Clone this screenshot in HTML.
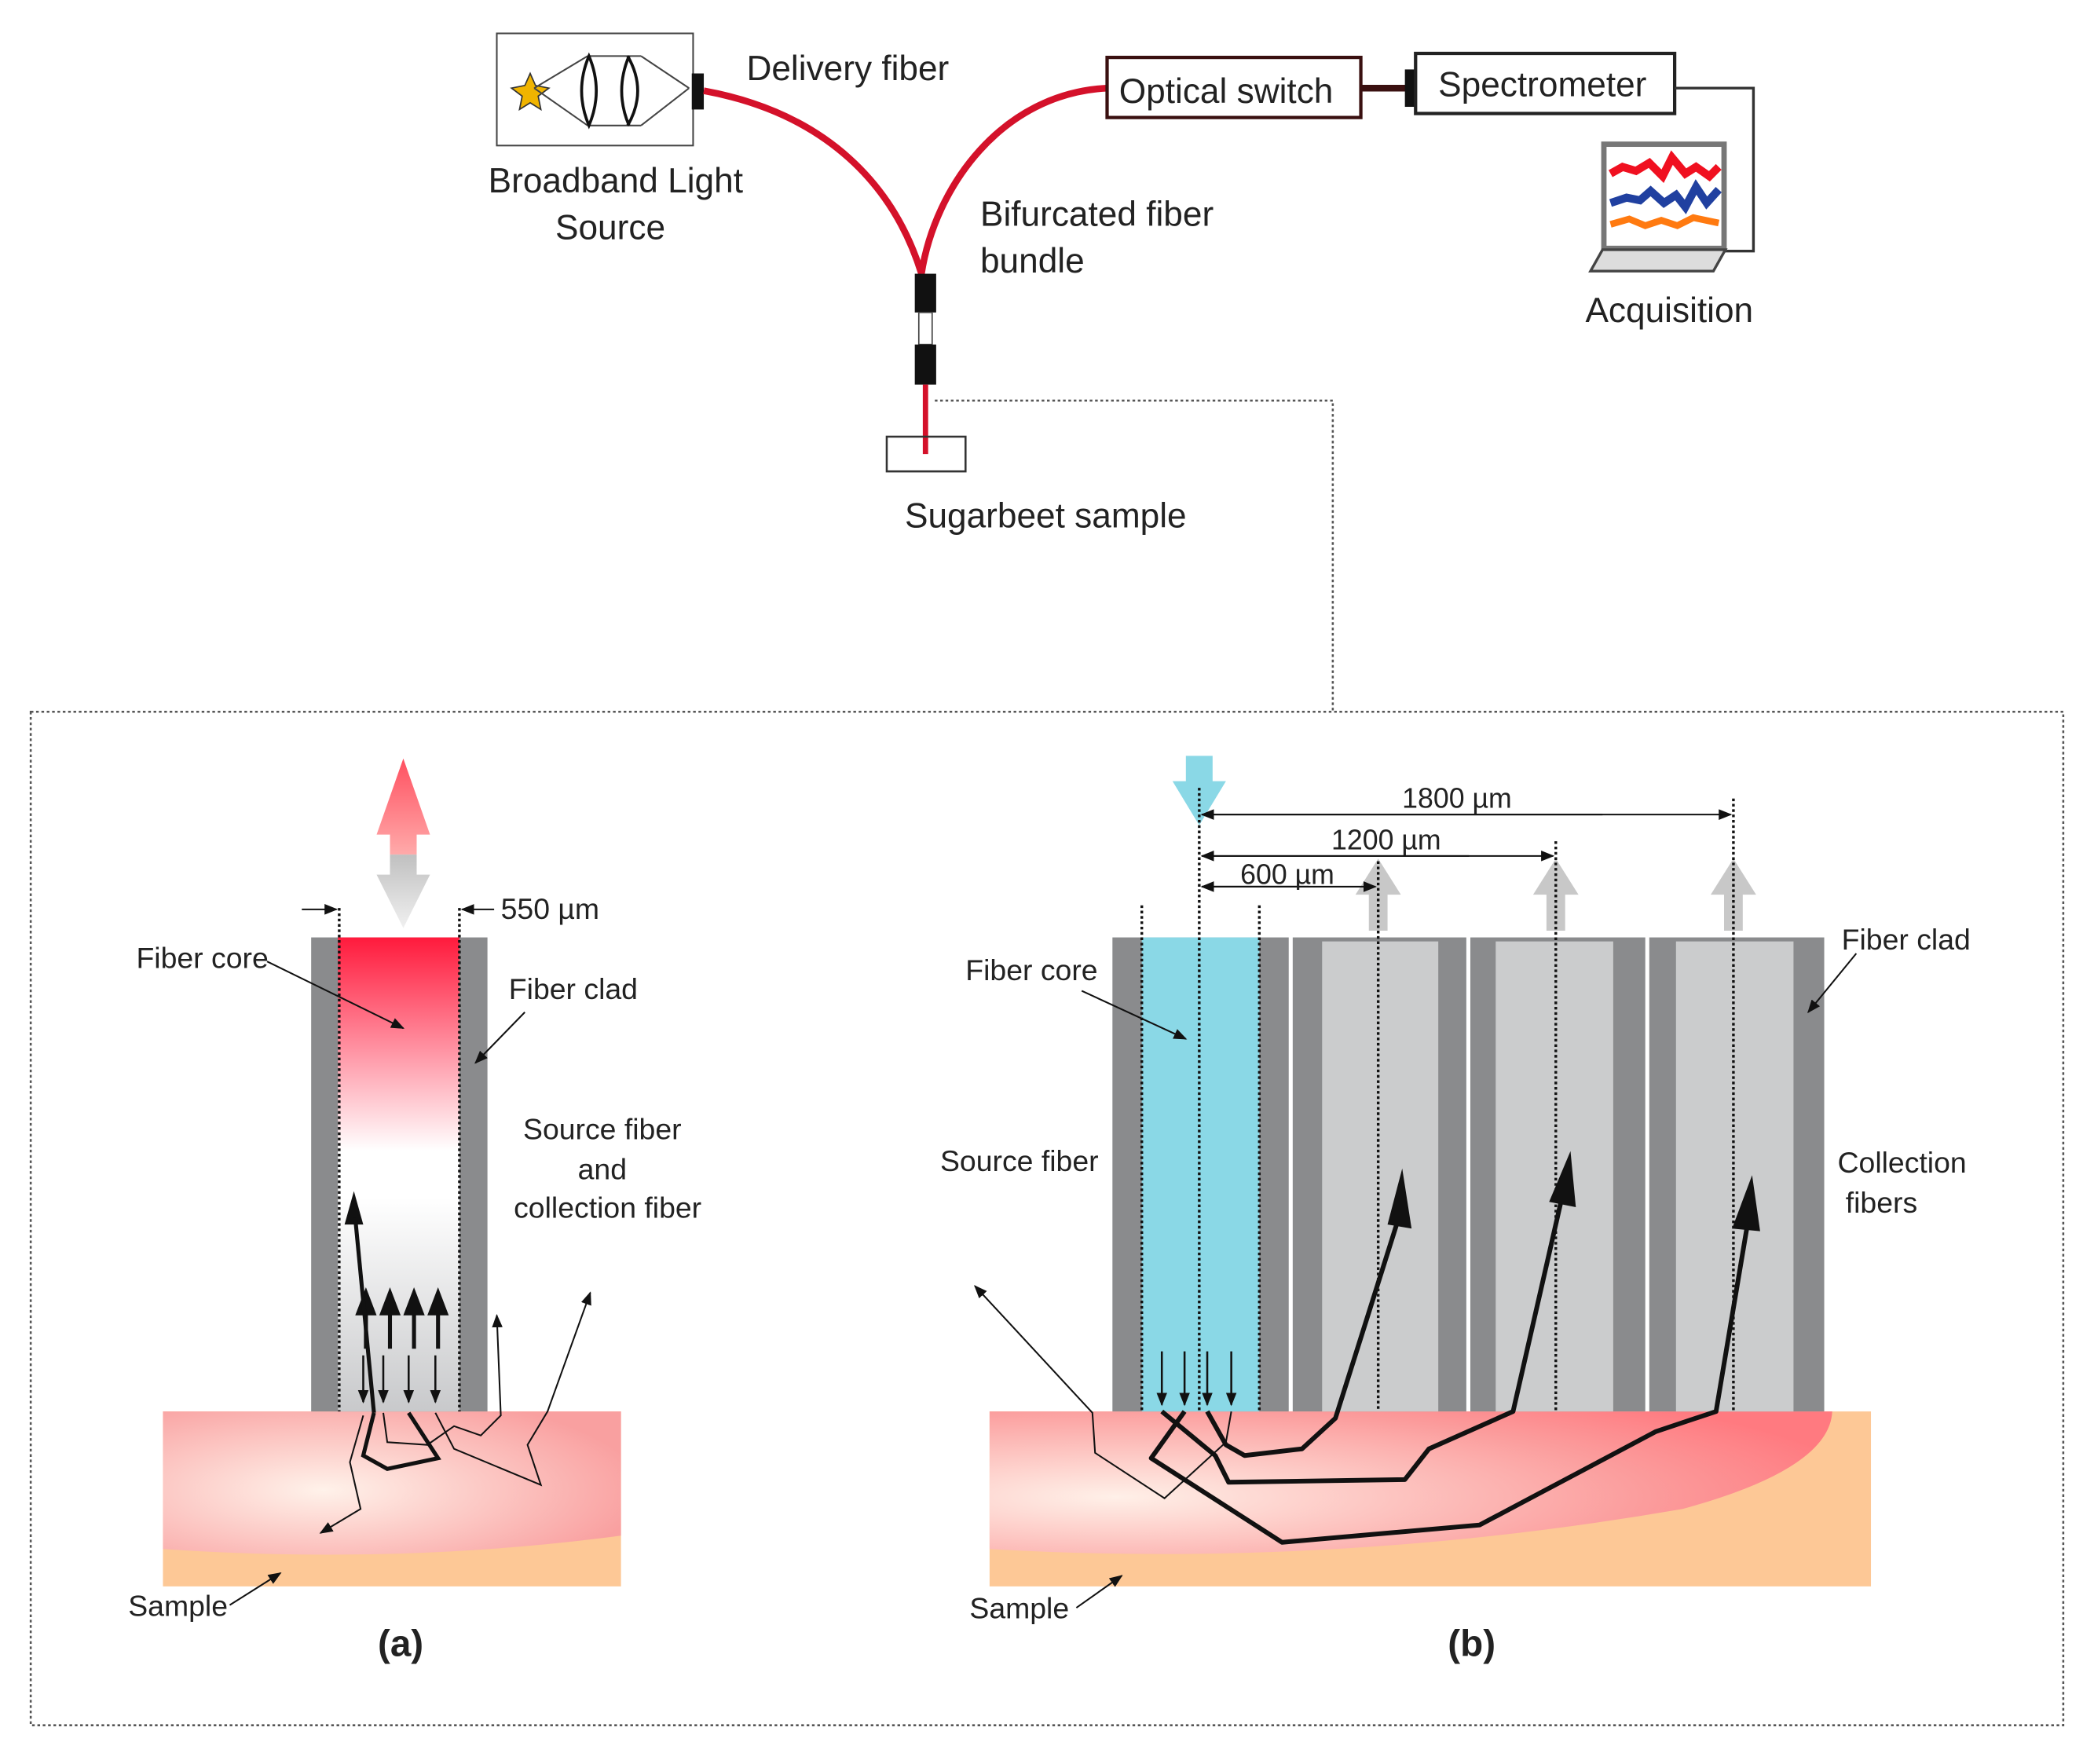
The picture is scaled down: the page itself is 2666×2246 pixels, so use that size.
<!DOCTYPE html>
<html><head><meta charset="utf-8"><style>
html,body{margin:0;padding:0;background:#fff}
svg{display:block}
text{font-family:"Liberation Sans",sans-serif;fill:#222}
</style></head><body>
<svg width="2666" height="2246" viewBox="0 0 1568 1321" xmlns="http://www.w3.org/2000/svg">
<defs>
<marker id="ah" markerWidth="10" markerHeight="8" refX="9" refY="4" orient="auto" markerUnits="userSpaceOnUse"><path d="M0,0 L10,4 L0,8 z" fill="#111"/></marker>
<marker id="ahb" markerWidth="18" markerHeight="16" refX="16" refY="8" orient="auto" markerUnits="userSpaceOnUse"><path d="M0,0 L18,8 L0,16 z" fill="#111"/></marker>
<linearGradient id="coreA" x1="0" y1="0" x2="0" y2="1">
<stop offset="0" stop-color="#ff1a3c"/><stop offset="0.45" stop-color="#fff"/><stop offset="0.55" stop-color="#fff"/><stop offset="1" stop-color="#c8c9cb"/></linearGradient>
<radialGradient id="sampA" cx="0.35" cy="0.55" r="0.7"><stop offset="0" stop-color="#fff2ea"/><stop offset="1" stop-color="#f9a0a0"/></radialGradient>
<radialGradient id="sampB" cx="0.15" cy="0.6" r="0.9"><stop offset="0" stop-color="#fff0e8"/><stop offset="0.7" stop-color="#fb9c9c"/><stop offset="1" stop-color="#ff7a80"/></radialGradient>
<linearGradient id="upR" x1="0" y1="0" x2="0" y2="1"><stop offset="0" stop-color="#ff5060"/><stop offset="1" stop-color="#ffaaaa"/></linearGradient>
<linearGradient id="dnG" x1="0" y1="0" x2="0" y2="1"><stop offset="0" stop-color="#c0c0c0"/><stop offset="1" stop-color="#f0f0f0"/></linearGradient>
</defs>

<!-- TOP SETUP -->
<rect x="372" y="25" width="147" height="84" fill="#fff" stroke="#444" stroke-width="1.2"/>
<polygon points="397,55 401,64 411,66 403,72 405,82 397,77 389,82 391,72 383,66 393,64" fill="#f0b400" stroke="#333" stroke-width="1"/>
<path d="M400,66 L440,42 M400,66 L440,94 M440,42 L480,42 M440,94 L480,94 M480,42 L516,66 M480,94 L516,66" stroke="#444" stroke-width="1.2" fill="none"/>
<path d="M441,42 Q452,68 441,94 Q430,68 441,42 Z" fill="#fff" stroke="#111" stroke-width="2.2"/>
<path d="M471,42 Q460,68 471,94 M470,42 Q485,68 470,94" fill="none" stroke="#111" stroke-width="2.2"/>
<rect x="518" y="55" width="9" height="27" fill="#111"/>
<path d="M527,68 C620,85 670,140 690,205" stroke="#d4112a" stroke-width="5" fill="none"/>
<path d="M690,205 C700,140 750,70 829,66" stroke="#d4112a" stroke-width="5" fill="none"/>
<rect x="685" y="205" width="16" height="29" fill="#111"/>
<rect x="688" y="234" width="10" height="24" fill="#fff" stroke="#444"/>
<rect x="685" y="258" width="16" height="30" fill="#111"/>
<line x1="693" y1="288" x2="693" y2="340" stroke="#d4112a" stroke-width="4"/>
<rect x="664" y="327" width="59" height="26" fill="none" stroke="#333" stroke-width="1.5"/>
<rect x="829" y="43" width="190" height="45" fill="#fff" stroke="#3a1010" stroke-width="2.5"/>
<line x1="1019" y1="66" x2="1058" y2="66" stroke="#3a1010" stroke-width="5"/>
<rect x="1052" y="52" width="8" height="28" fill="#111"/>
<rect x="1060" y="40" width="194" height="45" fill="#fff" stroke="#222" stroke-width="2.5"/>
<path d="M1254,66 L1313,66 L1313,188 L1288,188" stroke="#333" stroke-width="2" fill="none"/>
<rect x="1201" y="108" width="90" height="78" fill="#fff" stroke="#777" stroke-width="4"/>
<path d="M1206,130 L1215,125 L1225,128 L1235,122 L1245,132 L1252,118 L1262,130 L1270,125 L1280,132 L1287,125" stroke="#f01020" stroke-width="6" fill="none"/>
<path d="M1206,152 L1218,148 L1228,150 L1236,143 L1246,152 L1255,146 L1262,155 L1270,140 L1278,152 L1287,142" stroke="#2040a0" stroke-width="6" fill="none"/>
<path d="M1206,168 L1220,164 L1232,169 L1244,165 L1256,169 L1268,163 L1287,167" stroke="#ff7a10" stroke-width="5" fill="none"/>
<polygon points="1200,187 1292,187 1283,203 1191,203" fill="#ddd" stroke="#444" stroke-width="2"/>
<text x="559" y="60" font-size="26">Delivery fiber</text>
<text x="461" y="144" font-size="26" text-anchor="middle">Broadband Light</text>
<text x="457" y="179" font-size="26" text-anchor="middle">Source</text>
<text x="734" y="169" font-size="26">Bifurcated fiber</text>
<text x="734" y="204" font-size="26">bundle</text>
<text x="838" y="77" font-size="26">Optical switch</text>
<text x="1077" y="72" font-size="26">Spectrometer</text>
<text x="1250" y="241" font-size="26" text-anchor="middle">Acquisition</text>
<text x="783" y="395" font-size="26" text-anchor="middle">Sugarbeet sample</text>
<path d="M700,300 L998,300 L998,532" stroke="#555" stroke-width="1.5" stroke-dasharray="2,2" fill="none"/>
<rect x="23" y="533" width="1522" height="759" fill="none" stroke="#555" stroke-width="1.5" stroke-dasharray="2,2"/>

<!-- PANEL A -->
<polygon points="292,625 282,625 302,568 322,625 312,625 312,640 292,640" fill="url(#upR)"/>
<polygon points="292,640 312,640 312,655 322,655 302,695 282,655 292,655" fill="url(#dnG)"/>
<path d="M122,1057 L465,1057 L465,1188 L122,1188 Z" fill="#fdc896"/>
<path d="M122,1057 L465,1057 L465,1150 Q300,1172 122,1160 Z" fill="url(#sampA)"/>
<rect x="233" y="702" width="132" height="355" fill="#8a8b8d"/>
<rect x="253" y="702" width="91" height="355" fill="url(#coreA)"/>
<line x1="254" y1="680" x2="254" y2="1057" stroke="#111" stroke-width="2" stroke-dasharray="2,2"/>
<line x1="344" y1="680" x2="344" y2="1057" stroke="#111" stroke-width="2" stroke-dasharray="2,2"/>
<line x1="226" y1="681" x2="252" y2="681" stroke="#111" stroke-width="1.2" marker-end="url(#ah)"/>
<line x1="370" y1="681" x2="346" y2="681" stroke="#111" stroke-width="1.2" marker-end="url(#ah)"/>
<text x="375" y="688" font-size="22">550 µm</text>
<g stroke="#111" stroke-width="3" fill="#111">
<line x1="274" y1="1010" x2="274" y2="978"/><line x1="292" y1="1010" x2="292" y2="978"/><line x1="310" y1="1010" x2="310" y2="978"/><line x1="328" y1="1010" x2="328" y2="978"/>
</g>
<g fill="#111"><polygon points="266,985 274,964 282,985"/><polygon points="284,985 292,964 300,985"/><polygon points="302,985 310,964 318,985"/><polygon points="320,985 328,964 336,985"/>
<polygon points="258,917 265,892 272,917"/></g>
<g stroke="#111" stroke-width="1.5">
<line x1="272" y1="1015" x2="272" y2="1050" marker-end="url(#ah)"/><line x1="287" y1="1015" x2="287" y2="1050" marker-end="url(#ah)"/><line x1="306" y1="1015" x2="306" y2="1050" marker-end="url(#ah)"/><line x1="326" y1="1015" x2="326" y2="1050" marker-end="url(#ah)"/>
</g>
<path d="M280,1058 L266,912" stroke="#111" stroke-width="3" fill="none"/>
<path d="M280,1058 L272,1090 L290,1100 L328,1092 L306,1058" stroke="#111" stroke-width="3" fill="none"/>
<path d="M287,1058 L290,1080 L320,1082 L340,1068 L360,1075 L375,1060 L372,985" stroke="#111" stroke-width="1.2" fill="none" marker-end="url(#ah)"/>
<path d="M326,1058 L340,1085 L405,1112 L395,1082 L410,1057 L442,968" stroke="#111" stroke-width="1.2" fill="none" marker-end="url(#ah)"/>
<path d="M272,1060 L262,1095 L270,1130 L240,1148" stroke="#111" stroke-width="1.2" fill="none" marker-end="url(#ah)"/>
<line x1="200" y1="720" x2="302" y2="770" stroke="#111" stroke-width="1.2" marker-end="url(#ah)"/>
<line x1="393" y1="758" x2="356" y2="796" stroke="#111" stroke-width="1.2" marker-end="url(#ah)"/>
<line x1="172" y1="1202" x2="210" y2="1178" stroke="#111" stroke-width="1.2" marker-end="url(#ah)"/>
<text x="102" y="725" font-size="22">Fiber core</text>
<text x="381" y="748" font-size="22">Fiber clad</text>
<text x="451" y="853" font-size="22" text-anchor="middle">Source fiber</text>
<text x="451" y="883" font-size="22" text-anchor="middle">and</text>
<text x="455" y="912" font-size="22" text-anchor="middle">collection fiber</text>
<text x="96" y="1210" font-size="22">Sample</text>
<text x="300" y="1240" font-size="28" font-weight="bold" text-anchor="middle">(a)</text>

<!-- PANEL B -->
<polygon points="888,566 908,566 908,585 918,585 898,618 878,585 888,585" fill="#8ad8e6"/>
<path d="M741,1057 L1401,1057 L1401,1188 L741,1188 Z" fill="#fdc896"/>
<path d="M741,1057 L1372,1057 Q1370,1100 1260,1130 Q1000,1175 741,1160 Z" fill="url(#sampB)"/>
<rect x="833" y="702" width="132" height="355" fill="#8a8b8d"/>
<rect x="855" y="702" width="88" height="355" fill="#8ad8e6"/>
<rect x="968" y="702" width="130" height="355" fill="#8a8b8d"/>
<rect x="990" y="705" width="87" height="352" fill="#cbcccd"/>
<rect x="1101" y="702" width="131" height="355" fill="#8a8b8d"/>
<rect x="1120" y="705" width="88" height="352" fill="#cbcccd"/>
<rect x="1235" y="702" width="131" height="355" fill="#8a8b8d"/>
<rect x="1255" y="705" width="88" height="352" fill="#cbcccd"/>
<g fill="#c8c8c8">
<polygon points="1025,670 1015,670 1032,643 1049,670 1039,670 1039,697 1025,697"/>
<polygon points="1158,670 1148,670 1165,643 1182,670 1172,670 1172,697 1158,697"/>
<polygon points="1291,670 1281,670 1298,643 1315,670 1305,670 1305,697 1291,697"/>
</g>
<g stroke="#111" stroke-width="2" stroke-dasharray="2,2">
<line x1="898" y1="590" x2="898" y2="1057"/><line x1="855" y1="678" x2="855" y2="1057"/><line x1="943" y1="678" x2="943" y2="1057"/>
<line x1="1032" y1="645" x2="1032" y2="1057"/><line x1="1165" y1="630" x2="1165" y2="1057"/><line x1="1298" y1="598" x2="1298" y2="1057"/>
</g>
<g stroke="#111" stroke-width="1.2">
<line x1="900" y1="610" x2="1296" y2="610" marker-end="url(#ah)"/><line x1="1200" y1="610" x2="900" y2="610" marker-end="url(#ah)"/>
<line x1="900" y1="641" x2="1163" y2="641" marker-end="url(#ah)"/><line x1="1100" y1="641" x2="900" y2="641" marker-end="url(#ah)"/>
<line x1="900" y1="664" x2="1030" y2="664" marker-end="url(#ah)"/><line x1="980" y1="664" x2="900" y2="664" marker-end="url(#ah)"/>
</g>
<text x="1091" y="605" font-size="21" text-anchor="middle">1800 µm</text>
<text x="1038" y="636" font-size="21" text-anchor="middle">1200 µm</text>
<text x="964" y="662" font-size="21" text-anchor="middle">600 µm</text>
<g stroke="#111" stroke-width="1.5">
<line x1="870" y1="1012" x2="870" y2="1052" marker-end="url(#ah)"/><line x1="887" y1="1012" x2="887" y2="1052" marker-end="url(#ah)"/><line x1="904" y1="1012" x2="904" y2="1052" marker-end="url(#ah)"/><line x1="922" y1="1012" x2="922" y2="1052" marker-end="url(#ah)"/>
</g>
<g stroke="#111" stroke-width="3.5" fill="none" stroke-linejoin="round">
<path d="M904,1057 L918,1082 L932,1090 L975,1085 L1000,1062 L1048,910"/>
<path d="M870,1057 L910,1090 L920,1110 L1052,1108 L1070,1085 L1133,1057 L1170,895"/>
<path d="M887,1057 L862,1092 L960,1155 L1108,1142 L1240,1072 L1285,1057 L1308,920"/>
</g>
<g fill="#111">
<polygon points="1039,917 1050,875 1057,920"/>
<polygon points="1160,900 1176,862 1180,904"/>
<polygon points="1297,920 1312,880 1318,922"/>
</g>
<path d="M922,1057 L918,1080 L872,1122 L820,1088 L818,1058 L730,963" stroke="#111" stroke-width="1.2" fill="none" marker-end="url(#ah)"/>
<line x1="810" y1="742" x2="888" y2="778" stroke="#111" stroke-width="1.2" marker-end="url(#ah)"/>
<line x1="1390" y1="714" x2="1354" y2="758" stroke="#111" stroke-width="1.2" marker-end="url(#ah)"/>
<line x1="806" y1="1204" x2="840" y2="1180" stroke="#111" stroke-width="1.2" marker-end="url(#ah)"/>
<text x="723" y="734" font-size="22">Fiber core</text>
<text x="1379" y="711" font-size="22">Fiber clad</text>
<text x="704" y="877" font-size="22">Source fiber</text>
<text x="1376" y="878" font-size="22">Collection</text>
<text x="1382" y="908" font-size="22">fibers</text>
<text x="726" y="1212" font-size="22">Sample</text>
<text x="1102" y="1240" font-size="28" font-weight="bold" text-anchor="middle">(b)</text>
</svg>
</body></html>
